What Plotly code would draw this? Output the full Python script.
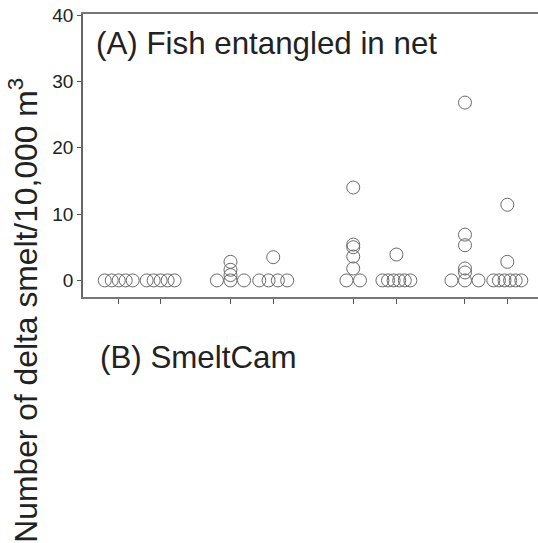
import numpy as np
import plotly.graph_objects as go

# sampling occasions (paired ticks), positions along x
group_pos = [0.0, 0.99, 2.64, 3.65, 5.54, 6.56, 8.18, 9.18]

# densities per occasion (delta smelt / 10,000 m3)
g1 = [0, 0, 0, 0, 0]
g2 = [0, 0, 0, 0, 0]
g3 = [0, 0, 0, 0.8, 1.6, 2.8]
g4 = [0, 0, 0, 0, 3.5]
g5 = [0, 0, 1.8, 3.6, 5.0, 5.4, 14.0]
g6 = [0, 0, 0, 0, 0, 0, 3.9]
g7 = [0, 0, 0, 1.2, 1.8, 5.3, 6.9, 26.8]
g8 = [0, 0, 0, 0, 0, 0, 2.8, 11.4]
groups = [g1, g2, g3, g4, g5, g6, g7, g8]

y_ticks = [0, 10, 20, 30, 40]

FONT = "Liberation Sans, Arial, sans-serif"
GREY = "#6a6a6a"


def spread(vals, step=0.32, half=0.33):
    # zeros are fanned out side by side, the rest stay on the centre line
    vals = np.asarray(vals, dtype=float)
    off = np.zeros(len(vals))
    zi = np.where(vals == 0)[0]
    n = len(zi)
    if n > 1:
        w = min(step * (n - 1) / 2, half)
        off[zi] = np.linspace(-w, w, n)
    return off


xs, ys = [], []
for pos, vals in zip(group_pos, groups):
    xs.extend(pos + spread(vals))
    ys.extend(vals)

fig = go.Figure()
fig.add_trace(go.Scatter(
    x=xs, y=ys, mode="markers",
    marker=dict(symbol="circle-open", size=13, color=GREY, line=dict(width=1)),
    showlegend=False, hoverinfo="skip",
))

fig.update_layout(
    width=538, height=543,
    margin=dict(l=83, r=0, t=14, b=246),
    paper_bgcolor="white", plot_bgcolor="white",
    font=dict(family=FONT, size=19, color="#222"),
    xaxis=dict(
        range=[-0.844, 9.905], tickvals=group_pos, showticklabels=False,
        ticks="outside", ticklen=5, tickcolor="#555", tickwidth=1,
        showline=True, linecolor="#777", linewidth=1.5, mirror=True,
        showgrid=False, zeroline=False,
    ),
    yaxis=dict(
        range=[-2.5, 40.15], tickvals=y_ticks,
        ticks="outside", ticklen=4, tickcolor="#555", tickwidth=1,
        showline=True, linecolor="#666", linewidth=1.5,
        showgrid=False, zeroline=False, ticklabeloverflow="allow",
    ),
)

fig.add_annotation(
    text="Number of delta smelt/10,000 m<sup>3</sup>", textangle=-90,
    xref="paper", yref="paper", x=-0.132, y=-0.045,
    xanchor="center", yanchor="middle", showarrow=False,
    font=dict(size=31.8, family=FONT, color="#222"),
)
fig.add_annotation(
    text="(A) Fish entangled in net",
    xref="paper", yref="paper", x=0.025, y=0.894,
    xanchor="left", yanchor="middle", showarrow=False,
    font=dict(size=31.3, family=FONT, color="#222"),
)
fig.add_annotation(
    text="(B) SmeltCam",
    xref="paper", yref="paper", x=0.033, y=-0.214,
    xanchor="left", yanchor="middle", showarrow=False,
    font=dict(size=31.3, family=FONT, color="#222"),
)

# drop the default page margin so the figure fills the window
fig.write_html(
    "out.html",
    config={"displayModeBar": False},
    post_script="document.body.style.margin='0';",
)
